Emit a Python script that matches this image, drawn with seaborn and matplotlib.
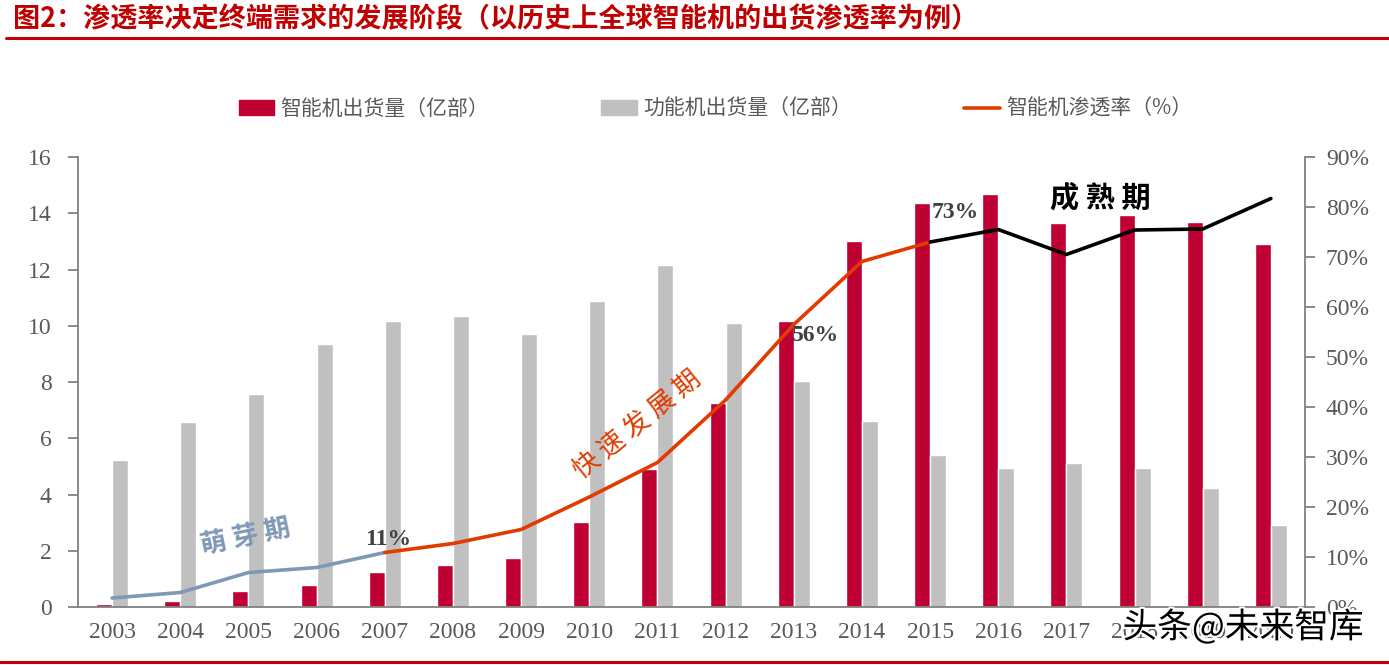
import matplotlib
matplotlib.use("Agg")
import matplotlib.pyplot as plt
import matplotlib.patheffects as pe
from matplotlib.lines import Line2D
from matplotlib.patches import Patch
import numpy as np
import pandas as pd
import seaborn as sns

sns.set_style("white")
plt.rcParams['font.family'] = ['Liberation Serif', 'Noto Sans CJK SC', 'DejaVu Sans']

# data
years = [str(y) for y in range(2003, 2021)]
smart = [0.1, 0.2, 0.57, 0.79, 1.24, 1.5, 1.73, 3.03, 4.92, 7.25, 10.18, 13.02,
         14.37, 14.7, 13.65, 13.95, 13.7, 12.89]
feature = [5.22, 6.58, 7.58, 9.36, 10.18, 10.35, 9.7, 10.87, 12.17, 10.1, 8.03, 6.62,
           5.4, 4.95, 5.12, 4.95, 4.23, 2.9]
penetration = [1.8, 2.9, 6.9, 7.9, 10.9, 12.7, 15.5, 22.0, 28.9, 41.4, 56.5, 69.1,
               73.0, 75.5, 70.5, 75.4, 75.6, 81.7]
smart_label = "智能机出货量（亿部）"
feature_label = "功能机出货量（亿部）"
rate_label = "智能机渗透率（%）"
title = "图2：渗透率决定终端需求的发展阶段（以历史上全球智能机的出货渗透率为例）"

RED = "#be0032"
GRAY = "#c0c0c0"
ORANGE = "#e03c00"
BLUEGRAY = "#7f98b6"
AXC = "#808080"
TXT = "#595959"

df_bar = pd.DataFrame({"year": years * 2,
                       "value": smart + feature,
                       "kind": [smart_label] * len(years) + [feature_label] * len(years)})
df_line = pd.DataFrame({"x": np.arange(len(years)), "rate": penetration})

fig = plt.figure(figsize=(13.89, 6.65), dpi=100)
ax = fig.add_axes([0.0562, 0.0872, 0.8833, 0.6767])

sns.barplot(data=df_bar, x="year", y="value", hue="kind", palette=[RED, GRAY],
            width=0.47, gap=0, ax=ax, legend=False, saturation=1)
ax.set_xlim(-0.5, len(years) - 0.5)
ax.set_ylim(0, 16)
ax.set_yticks(range(0, 17, 2))
ax.set_xlabel("")
ax.set_ylabel("")

ax2 = ax.twinx()
# three phases of the penetration curve
seg1 = df_line.iloc[0:5]
seg2 = df_line.iloc[4:13]
seg3 = df_line.iloc[12:]
sns.lineplot(data=seg1, x="x", y="rate", color=BLUEGRAY, lw=2.6, ax=ax2)
sns.lineplot(data=seg2, x="x", y="rate", color=ORANGE, lw=2.6, ax=ax2)
sns.lineplot(data=seg3, x="x", y="rate", color="black", lw=2.6, ax=ax2)
ax2.set_ylim(0, 90)
ax2.set_yticks(range(0, 91, 10))
ax2.set_yticklabels([f"{v}%" for v in range(0, 91, 10)])
ax2.set_xlim(-0.5, len(years) - 0.5)
ax2.set_ylabel("")

for a in (ax, ax2):
    for s in a.spines.values():
        s.set_visible(False)
ax.spines["left"].set_visible(True)
ax.spines["bottom"].set_visible(True)
ax2.spines["right"].set_visible(True)
for s in (ax.spines["left"], ax.spines["bottom"], ax2.spines["right"]):
    s.set_color(AXC)
    s.set_linewidth(1.3)

ax.set_xticks(np.arange(len(years)))
ax.set_xticklabels(years)
ax.set_xticks(np.arange(len(years) + 1) - 0.5, minor=True)
ax.tick_params(axis="x", which="major", length=0, pad=11, labelsize=17, labelcolor=TXT)
ax.tick_params(axis="x", which="minor", length=7, color=AXC, width=1.3, direction="out")
ax.tick_params(axis="y", length=7, color=AXC, width=1.3, direction="out", pad=12,
               labelsize=17, labelcolor=TXT, left=True)
ax2.tick_params(axis="y", length=7, color=AXC, width=1.3, direction="out", pad=8,
                labelsize=17, labelcolor=TXT, right=True)

# annotations
ax2.text(4.05, 13.6, "11%", ha="center", va="center", fontsize=17, fontweight="bold", color="#404040")
ax2.text(9.98, 54.4, "56%", ha="left", va="center", fontsize=17, fontweight="bold", color="#404040")
ax2.text(12.02, 79.0, "73%", ha="left", va="center", fontsize=17, fontweight="bold", color="#404040")
ax2.text(14.5, 82.0, "成 熟 期", ha="center", va="center", fontsize=21, fontweight="bold",
         color="black", family=["Noto Sans CJK SC"])
ax2.text(1.96, 14.0, "萌 芽 期", ha="center", va="center", fontsize=19, rotation=12,
         color=BLUEGRAY, fontweight="bold", family=["Noto Sans CJK SC"])
ax2.text(7.7, 36.6, "快 速 发 展 期", ha="center", va="center", fontsize=19, rotation=39,
         color=ORANGE, family=["Noto Sans CJK SC"])

# legend
handles = [Patch(color=RED), Patch(color=GRAY), Line2D([], [], color=ORANGE, lw=2.6)]
leg = fig.legend(handles, [smart_label, feature_label, rate_label], loc="center",
                 bbox_to_anchor=(0.515, 0.836), ncol=3, frameon=False,
                 handlelength=1.7, handletextpad=0.3, columnspacing=5.4,
                 prop={"family": ["Noto Sans CJK SC"], "size": 15})
for t in leg.get_texts():
    t.set_color(TXT)

# title and red rules
fig.text(0.009, 0.972, title, ha="left", va="center", fontsize=19.5, fontweight="bold",
         color="#c00000", family=["Noto Sans CJK SC"])
fig.add_artist(Line2D([0.004, 1.0], [0.943, 0.943], color="#c00000", lw=2.2))
fig.add_artist(Line2D([0.0, 1.0], [0.005, 0.005], color="#c00000", lw=2.2))

# watermark
fig.text(0.895, 0.056, "头条@未来智库", ha="center", va="center", fontsize=25,
         color="black", family=["Noto Sans CJK SC"],
         path_effects=[pe.withStroke(linewidth=3, foreground="white")])

fig.savefig("out.png", dpi=100)
